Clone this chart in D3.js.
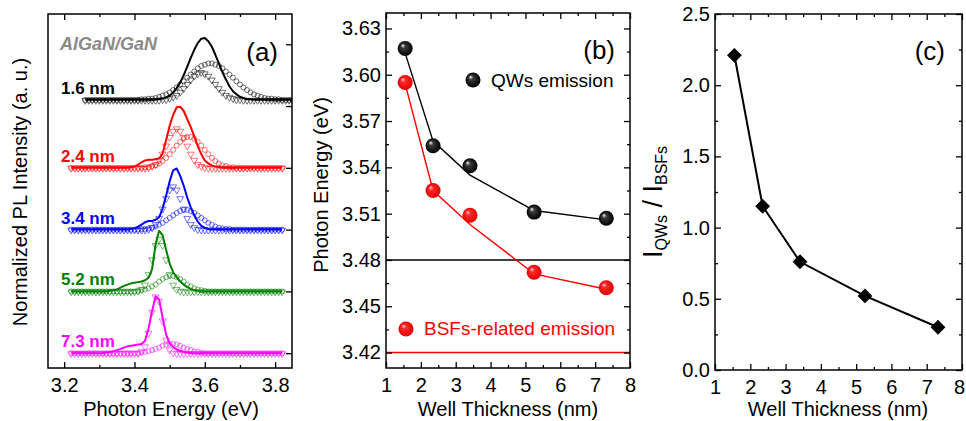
<!DOCTYPE html>
<html>
<head>
<meta charset="utf-8">
<script src="https://d3js.org/d3.v7.min.js"></script>
<style>
body{margin:0;background:#fff;}
svg text{font-family:"Liberation Sans",Arial,sans-serif;}
</style>
</head>
<body>
<svg id="chart" width="966" height="421"></svg>
<script>
// ---------- (a) PL spectra ----------
var energyGrid = [3.22,3.23,3.24,3.25,3.26,3.27,3.28,3.29,3.30,3.31,3.32,3.33,3.34,3.35,3.36,3.37,3.38,3.39,3.40,3.41,
  3.42,3.43,3.44,3.45,3.46,3.47,3.48,3.49,3.50,3.51,3.52,3.53,3.54,3.55,3.56,3.57,3.58,3.59,3.60,3.61,
  3.62,3.63,3.64,3.65,3.66,3.67,3.68,3.69,3.70,3.71,3.72,3.73,3.74,3.75,3.76,3.77,3.78,3.79,3.80,3.81,3.82];
var energyGrid16 = [3.26,3.27,3.28,3.29,3.30,3.31,3.32,3.33,3.34,3.35,3.36,3.37,3.38,3.39,3.40,3.41,3.42,3.43,3.44,3.45,
  3.46,3.47,3.48,3.49,3.50,3.51,3.52,3.53,3.54,3.55,3.56,3.57,3.58,3.59,3.60,3.61,3.62,3.63,3.64,3.65,
  3.66,3.67,3.68,3.69,3.70,3.71,3.72,3.73,3.74,3.75,3.76,3.77,3.78,3.79,3.80,3.81,3.82,3.83,3.84,3.85];

var wellLabels = ['1.6 nm','2.4 nm','3.4 nm','5.2 nm','7.3 nm'];
var wellOffsets = [4.1, 3, 2, 1, 0];
var wellColors = ['#000000','#ff0000','#0000ff','#008000','#ff00ff'];

// solid line = measured, circles = QW component, triangles = BSF component
var pl16Line = [0,0,0,0,0,0,0,0,0,0, 0,0,0,0,0,0,0,0,0,0,
  .01,.01,.02,.04,.07,.12,.19,.28,.40,.54,.68,.81,.92,.99,1.00,.95,.86,.73,.59,.45,.33,.22,.14,.09,.05,.03,.01,.01,
  0,0,0,0,0,0,0,0,0,0, 0,0];
var pl16QW = [0,0,0,0,0,0,0,0,0,0, 0,0,0,0,0,0,
  .01,.01,.02,.02,.03,.05,.07,.09,.12,.16,.20,.25,.30,.36,.41,.46,.51,.55,.57,.59,
  .59,.57,.55,.51,.46,.41,.36,.30,.25,.20,.16,.12,.09,.07,.05,.03,.02,.02,.01,.01,
  0,0,0,0];
var pl16BSF = [0,0,0,0,0,0,0,0,0,0, 0,0,0,0,0,0,0,0,0,0, 0,0,
  .01,.01,.03,.05,.08,.13,.19,.26,.33,.39,.43,.45,.43,.39,.33,.26,.19,.13,.08,.05,.03,.01,.01,
  0,0,0,0,0,0,0,0,0,0, 0,0,0,0,0];

var pl24Line = [0,0,0,0,0,0,0,0,0,0, 0,0,0,0,0,0,0,
  .01,.02,.05,.09,.12,.13,.13,.14,.15,.23,.45,.68,.86,.98,.99,.92,.79,.66,.51,.35,.22,.12,.07,.04,.02,.01,
  0,0,0,0,0,0,0,0,0,0, 0,0,0,0,0,0,0,0];
var pl24QW = [0,0,0,0,0,0,0,0,0,0, 0,0,0,0,0,0,0,0,0,0, 0,
  .01,.01,.03,.04,.07,.11,.16,.22,.29,.36,.42,.47,.50,.50,.47,.42,.36,.29,.22,.16,.11,.07,.04,.03,.01,.01,
  0,0,0,0,0,0,0,0,0,0, 0,0,0,0];
var pl24BSF = [0,0,0,0,0,0,0,0,0,0, 0,0,0,0,0,0,0,0,0,0, 0,0,
  .01,.03,.06,.13,.23,.36,.50,.60,.64,.60,.50,.36,.23,.13,.06,.03,.01,
  0,0,0,0,0,0,0,0,0,0, 0,0,0,0,0,0,0,0,0,0, 0,0];

var pl34Line = [0,0,0,0,0,0,0,0,0,0, 0,0,0,0,0,0,0,
  .01,.02,.05,.08,.12,.14,.14,.16,.20,.34,.55,.78,.96,.99,.87,.71,.52,.36,.23,.13,.06,.03,.01,
  0,0,0,0,0,0,0,0,0,0, 0,0,0,0,0,0,0,0,0,0, 0];
var pl34QW = [0,0,0,0,0,0,0,0,0,0, 0,0,0,0,0,0,0,0,0,0,
  .01,.01,.02,.03,.05,.08,.11,.15,.19,.23,.27,.30,.32,.32,.30,.27,.23,.19,.15,.11,.08,.05,.03,.02,.01,.01,
  0,0,0,0,0,0,0,0,0,0, 0,0,0,0,0];
var pl34BSF = [0,0,0,0,0,0,0,0,0,0, 0,0,0,0,0,0,0,0,0,0, 0,0,
  .01,.04,.09,.19,.34,.51,.65,.70,.65,.51,.34,.19,.09,.04,.01,
  0,0,0,0,0,0,0,0,0,0, 0,0,0,0,0,0,0,0,0,0, 0,0,0,0];

var pl52Line = [0,0,0,0,0,0,0,0,0,0, 0,
  .01,.02,.03,.06,.09,.11,.13,.14,.15,.16,.18,.22,.36,.76,.98,.91,.67,.45,.31,.23,.16,.11,.07,.04,.02,.01,
  0,0,0,0,0,0,0,0,0,0, 0,0,0,0,0,0,0,0,0,0, 0,0,0,0];
var pl52QW = [0,0,0,0,0,0,0,0,0,0, 0,0,0,0,0,0,0,0,0,
  .01,.02,.03,.05,.08,.11,.16,.20,.23,.25,.25,.23,.20,.16,.11,.08,.05,.03,.02,.01,
  0,0,0,0,0,0,0,0,0,0, 0,0,0,0,0,0,0,0,0,0, 0,0];
var pl52BSF = [0,0,0,0,0,0,0,0,0,0, 0,0,0,0,0,0,0,0,0,
  .01,.04,.11,.28,.52,.75,.85,.75,.52,.28,.11,.04,.01,
  0,0,0,0,0,0,0,0,0,0, 0,0,0,0,0,0,0,0,0,0, 0,0,0,0,0,0,0,0,0];

var pl73Line = [0,0,0,0,0,0,0,0,0,0,
  .01,.02,.03,.05,.07,.09,.11,.12,.13,.14,.15,.20,.40,.68,.92,.87,.57,.30,.16,.10,.06,.04,.02,.01,
  0,0,0,0,0,0,0,0,0,0, 0,0,0,0,0,0,0,0,0,0, 0,0,0,0,0,0,0];
var pl73QW = [0,0,0,0,0,0,0,0,0,0, 0,0,0,0,0,0,0,0,0,0,
  .01,.02,.03,.05,.07,.09,.12,.14,.15,.15,.14,.12,.09,.07,.05,.03,.02,.01,
  0,0,0,0,0,0,0,0,0,0, 0,0,0,0,0,0,0,0,0,0, 0,0,0];
var pl73BSF = [0,0,0,0,0,0,0,0,0,0, 0,0,0,0,0,0,0,0,0,0,
  .03,.11,.33,.67,.92,.85,.53,.22,.06,.01,
  0,0,0,0,0,0,0,0,0,0, 0,0,0,0,0,0,0,0,0,0, 0,0,0,0,0,0,0,0,0,0, 0];

// ---------- (b) peak energies ----------
var thickness = [1.55, 2.35, 3.41, 5.25, 7.32];
var qwPeak = [3.617, 3.554, 3.541, 3.511, 3.507];
var qwFit = [3.614, 3.557, 3.535, 3.512, 3.506];
var bsfPeak = [3.595, 3.525, 3.509, 3.472, 3.462];
var bsfFit = [3.594, 3.525, 3.503, 3.471, 3.461];
var gaNLevel = 3.48, bsfLevel = 3.42;

// ---------- (c) intensity ratio ----------
var ratio = [2.21, 1.15, 0.76, 0.52, 0.30];

var svg = d3.select('#chart');
var FS = '20px';

var spectra = [
  {E: energyGrid16, line: pl16Line, qw: pl16QW, bsf: pl16BSF},
  {E: energyGrid, line: pl24Line, qw: pl24QW, bsf: pl24BSF},
  {E: energyGrid, line: pl34Line, qw: pl34QW, bsf: pl34BSF},
  {E: energyGrid, line: pl52Line, qw: pl52QW, bsf: pl52BSF},
  {E: energyGrid, line: pl73Line, qw: pl73QW, bsf: pl73BSF}
];

function frameAxes(x, y, o){
  var x0 = x.range()[0], x1 = x.range()[1], y0 = y.range()[0], y1 = y.range()[1];
  var gs = [];
  var bottom = svg.append('g').attr('transform','translate(0,'+y0+')')
    .call(d3.axisBottom(x).tickValues(o.xMajor).tickSize(-6).tickPadding(10).tickFormat(o.xFmt));
  gs.push(bottom);
  gs.push(svg.append('g').attr('transform','translate(0,'+y0+')')
    .call(d3.axisBottom(x).tickValues(o.xMinor).tickSize(-3).tickFormat('')));
  gs.push(svg.append('g').attr('transform','translate(0,'+y1+')')
    .call(d3.axisTop(x).tickValues(o.xMajor).tickSize(-6).tickFormat('')));
  gs.push(svg.append('g').attr('transform','translate(0,'+y1+')')
    .call(d3.axisTop(x).tickValues(o.xMinor).tickSize(-3).tickFormat('')));
  if(o.left){
    gs.push(svg.append('g').attr('transform','translate('+x0+',0)')
      .call(d3.axisLeft(y).tickValues(o.yMajor).tickSize(-6).tickPadding(5).tickFormat(o.yFmt)));
    gs.push(svg.append('g').attr('transform','translate('+x0+',0)')
      .call(d3.axisLeft(y).tickValues(o.yMinor).tickSize(-3).tickFormat('')));
  }
  gs.push(svg.append('g').attr('transform','translate('+x1+',0)')
    .call(d3.axisRight(y).tickValues(o.yMajor).tickSize(-6).tickFormat('')));
  if(o.yMinor.length){
    gs.push(svg.append('g').attr('transform','translate('+x1+',0)')
      .call(d3.axisRight(y).tickValues(o.yMinor).tickSize(-3).tickFormat('')));
  }
  gs.forEach(function(g){
    g.select('.domain').remove();
    g.selectAll('line').attr('stroke','#000').attr('stroke-width',1.3);
    g.selectAll('text').style('font-size',FS).attr('fill','#000');
  });
  svg.append('rect').attr('x',x0).attr('y',y1).attr('width',x1-x0).attr('height',y0-y1)
    .attr('fill','none').attr('stroke','#000').attr('stroke-width',1.5);
  return bottom;
}

function label(txt, x, y, size, anchor){
  return svg.append('text').attr('x',x).attr('y',y).attr('text-anchor',anchor||'start')
    .style('font-size',size).text(txt);
}
function yTitle(txt, x, y){
  return svg.append('text').attr('transform','translate('+x+','+y+') rotate(-90)')
    .attr('text-anchor','middle').style('font-size',FS).text(txt);
}

// ================= panel (a) =================
var xa = d3.scaleLinear().domain([3.154, 3.848]).range([48, 292]);
var ya = d3.scaleLinear().domain([-0.24, 5.49]).range([368, 14]);

svg.append('clipPath').attr('id','clipA').append('rect')
  .attr('x',48).attr('y',14).attr('width',244).attr('height',354);
var gA = svg.append('g').attr('clip-path','url(#clipA)');
var tri = d3.symbol().type(d3.symbolTriangle).size(20);

spectra.forEach(function(s, i){
  var off = wellOffsets[i], col = wellColors[i];
  var ln = d3.line().x(function(d,k){ return xa(s.E[k]); }).y(function(d){ return ya(off + d); });
  gA.append('path').datum(s.line).attr('d', ln)
    .attr('fill','none').attr('stroke',col).attr('stroke-width',2).attr('stroke-linejoin','round');
  gA.append('g').selectAll('circle').data(s.qw).enter().append('circle')
    .attr('cx',function(d,k){ return xa(s.E[k]); })
    .attr('cy',function(d){ return ya(off + d); })
    .attr('r',2.5).attr('fill','none').attr('stroke',col).attr('stroke-opacity',0.55).attr('stroke-width',1);
  gA.append('g').selectAll('path').data(s.bsf).enter().append('path')
    .attr('d', tri)
    .attr('transform',function(d,k){ return 'translate('+xa(s.E[k])+','+(ya(off + d)+0.5)+') rotate(180)'; })
    .attr('fill','none').attr('stroke',col).attr('stroke-opacity',0.55).attr('stroke-width',1);
  svg.append('text').attr('x',61).attr('y',ya(off)-6)
    .style('font-size','17px').style('font-weight','bold').attr('fill',col).text(wellLabels[i]);
});

frameAxes(xa, ya, {
  xMajor:[3.2,3.4,3.6,3.8], xMinor:[3.3,3.5,3.7], xFmt:d3.format('.1f'),
  left:false, yMajor:[0,1,2,3,4,5], yMinor:[]
});

svg.append('text').attr('x',60).attr('y',50).style('font-size','18px').style('font-weight','bold')
  .style('font-style','italic').attr('fill','#8a8a8a').text('AlGaN/GaN');
label('(a)', 278, 61, '26px', 'end');
label('Photon Energy (eV)', 171, 416, FS, 'middle');
yTitle('Normalized PL Intensity (a. u.)', 27, 192);

// ================= panel (b) =================
var xb = d3.scaleLinear().domain([1, 8]).range([386, 630]);
var yb = d3.scaleLinear().domain([3.41, 3.64]).range([368, 13]);

var defs = svg.append('defs');
function ball(id, c0, c1, c2){
  var g = defs.append('radialGradient').attr('id',id).attr('cx','50%').attr('cy','50%').attr('r','50%')
    .attr('fx','32%').attr('fy','28%');
  g.append('stop').attr('offset','0%').attr('stop-color',c0);
  g.append('stop').attr('offset','30%').attr('stop-color',c1);
  g.append('stop').attr('offset','100%').attr('stop-color',c2);
}
ball('ballK','#ffffff','#3a3a3a','#000000');
ball('ballR','#ffe0e0','#ff2a2a','#e00000');

svg.append('line').attr('x1',386).attr('x2',630).attr('y1',yb(gaNLevel)).attr('y2',yb(gaNLevel))
  .attr('stroke','#000').attr('stroke-width',1.5);
svg.append('line').attr('x1',386).attr('x2',630).attr('y1',yb(bsfLevel)).attr('y2',yb(bsfLevel))
  .attr('stroke','#ff0000').attr('stroke-width',1.5);

var lineB = function(arr){ return d3.line().x(function(d,k){ return xb(thickness[k]); }).y(function(d){ return yb(d); })(arr); };
svg.append('path').attr('d', lineB(qwFit)).attr('fill','none').attr('stroke','#000').attr('stroke-width',1.4);
svg.append('path').attr('d', lineB(bsfFit)).attr('fill','none').attr('stroke','#ff0000').attr('stroke-width',1.4);

svg.append('g').selectAll('circle').data(qwPeak).enter().append('circle')
  .attr('cx',function(d,k){ return xb(thickness[k]); }).attr('cy',function(d){ return yb(d); })
  .attr('r',7.5).attr('fill','url(#ballK)');
svg.append('g').selectAll('circle').data(bsfPeak).enter().append('circle')
  .attr('cx',function(d,k){ return xb(thickness[k]); }).attr('cy',function(d){ return yb(d); })
  .attr('r',7.5).attr('fill','url(#ballR)');

frameAxes(xb, yb, {
  xMajor:d3.range(1,9), xMinor:[1.5,2.5,3.5,4.5,5.5,6.5,7.5], xFmt:d3.format('d'),
  left:true, yMajor:[3.42,3.45,3.48,3.51,3.54,3.57,3.60,3.63],
  yMinor:[3.435,3.465,3.495,3.525,3.555,3.585,3.615], yFmt:d3.format('.2f')
});

svg.append('circle').attr('cx',473).attr('cy',80).attr('r',7.5).attr('fill','url(#ballK)');
label('QWs emission', 491, 87, '19px');
svg.append('circle').attr('cx',406).attr('cy',329).attr('r',7.5).attr('fill','url(#ballR)');
label('BSFs-related emission', 424, 335, '19px').attr('fill','#ff0000');
label('(b)', 615, 59, '26px', 'end');
label('Well Thickness (nm)', 508, 416, FS, 'middle');
yTitle('Photon Energy (eV)', 328, 185);

// ================= panel (c) =================
var xc = d3.scaleLinear().domain([1, 8]).range([715, 962]);
var yc = d3.scaleLinear().domain([0, 2.5]).range([370, 14]);

svg.append('path')
  .attr('d', d3.line().x(function(d,k){ return xc(thickness[k]); }).y(function(d){ return yc(d); })(ratio))
  .attr('fill','none').attr('stroke','#000').attr('stroke-width',2);
var dia = d3.symbol().type(d3.symbolSquare).size(110);
svg.append('g').selectAll('path').data(ratio).enter().append('path')
  .attr('d', dia)
  .attr('transform',function(d,k){ return 'translate('+xc(thickness[k])+','+yc(d)+') rotate(45)'; })
  .attr('fill','#000');

var bottomC = frameAxes(xc, yc, {
  xMajor:d3.range(1,9), xMinor:[1.5,2.5,3.5,4.5,5.5,6.5,7.5], xFmt:d3.format('d'),
  left:true, yMajor:[0,0.5,1,1.5,2,2.5], yMinor:[0.25,0.75,1.25,1.75,2.25], yFmt:d3.format('.1f')
});
// keep the last tick label inside the window edge
bottomC.selectAll('.tick text').filter(function(d){ return d === 8; }).attr('dx', -3);

label('(c)', 945, 60, '26px', 'end');
label('Well Thickness (nm)', 838, 416, FS, 'middle');
var yl = svg.append('text').attr('transform','translate(662,202) rotate(-90)')
  .attr('text-anchor','middle').style('font-size','27px');
yl.append('tspan').text('I');
yl.append('tspan').attr('dy',5).style('font-size','16px').text('QWs');
yl.append('tspan').attr('dy',-5).text(' / I');
yl.append('tspan').attr('dy',5).style('font-size','16px').text('BSFs');
</script>
</body>
</html>
